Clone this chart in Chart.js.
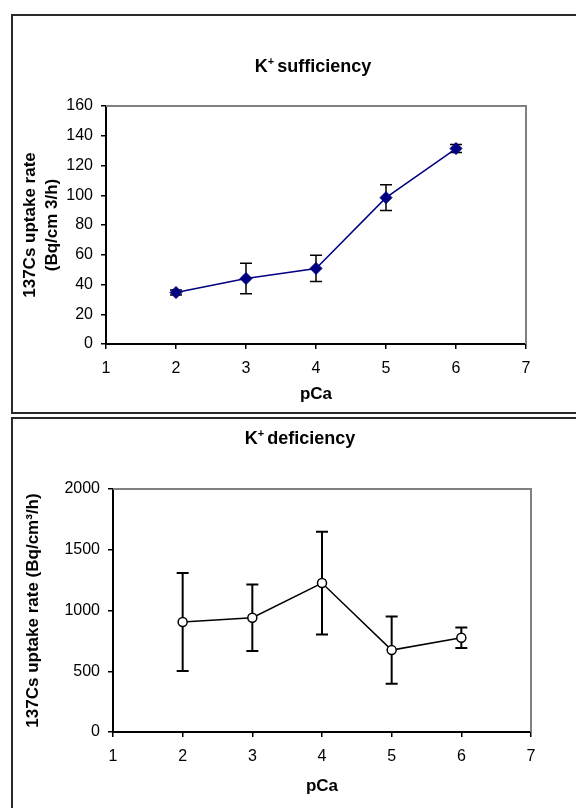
<!DOCTYPE html>
<html>
<head>
<meta charset="utf-8">
<script src="https://cdn.jsdelivr.net/npm/chart.js@4.4.1/dist/chart.umd.min.js"></script>
<style>
    html, body { margin: 0; padding: 0; background: #fff; overflow: hidden; }
    body { width: 576px; height: 808px; position: relative; font-family: 'Liberation Sans', Arial, sans-serif; }
    canvas { position: absolute; left: 0; }
    .box { position: absolute; left: 11px; width: 590px; border: 2px solid #2a2a2a; box-sizing: border-box; }
    .title { position: absolute; font-weight: bold; font-size: 18px; line-height: 18px; white-space: nowrap; transform: translateX(-50%); }
    .title sup { font-size: 11px; line-height: 0; vertical-align: 7px; margin-right: 3px; }
</style>
</head>
<body>
<canvas id="sufChart" width="576" height="412" style="top:0px;width:576px;height:412px"></canvas>
<canvas id="defChart" width="576" height="394" style="top:414px;width:576px;height:394px"></canvas>
<div class="box" style="top:14px;height:400px"></div>
<div class="box" style="top:417px;height:420px"></div>
<div class="title" style="left:313px;top:57px">K<sup>+</sup>sufficiency</div>
<div class="title" style="left:300px;top:429px">K<sup>+</sup>deficiency</div>

<script>
// Dados
const pCa = [2, 3, 4, 5, 6];
const xTicks = [1, 2, 3, 4, 5, 6, 7];

// K+ sufficiency
const sufMean = [34.6, 44, 50.8, 98.4, 131.4];
const sufErr = [1.7, 10.3, 8.8, 8.7, 2.7];
const sufYTicks = [0, 20, 40, 60, 80, 100, 120, 140, 160];

// K+ deficiency
const defMean = [905, 940, 1226, 674, 776];
const defErr = [403, 273, 423, 277, 85];
const defYTicks = [0, 500, 1000, 1500, 2000];

const FONT = "'Liberation Sans', Arial, sans-serif";

// Barras de erro desenhadas com as escalas do gráfico
function errorBars(means, errs, width) {
    return {
        id: 'errorBars',
        beforeDatasetsDraw(chart) {
            const ctx = chart.ctx;
            const xs = chart.scales.x;
            const ys = chart.scales.y;
            ctx.save();
            ctx.strokeStyle = '#000';
            ctx.lineWidth = width;
            pCa.forEach((p, i) => {
                const x = xs.getPixelForValue(p);
                const yTop = ys.getPixelForValue(means[i] + errs[i]);
                const yBot = ys.getPixelForValue(means[i] - errs[i]);
                ctx.beginPath();
                ctx.moveTo(x, yTop);
                ctx.lineTo(x, yBot);
                ctx.moveTo(x - 6, yTop);
                ctx.lineTo(x + 6, yTop);
                ctx.moveTo(x - 6, yBot);
                ctx.lineTo(x + 6, yBot);
                ctx.stroke();
            });
            ctx.restore();
        }
    };
}

// Borda cinza do plot area (topo e direita)
const plotFrame = {
    id: 'plotFrame',
    beforeDatasetsDraw(chart) {
        const {ctx, chartArea} = chart;
        ctx.save();
        ctx.strokeStyle = '#808080';
        ctx.lineWidth = 2;
        ctx.beginPath();
        ctx.moveTo(chartArea.left, chartArea.top);
        ctx.lineTo(chartArea.right, chartArea.top);
        ctx.lineTo(chartArea.right, chartArea.bottom);
        ctx.stroke();
        ctx.restore();
    }
};

function buildOptions(cfg) {
    return {
        responsive: false,
        animation: false,
        layout: {
            padding: { top: cfg.padTop, right: cfg.padRight, left: 0, bottom: 0 }
        },
        plugins: {
            legend: { display: false },
            tooltip: { enabled: false }
        },
        scales: {
            x: {
                type: 'linear',
                min: 1,
                max: 7,
                afterBuildTicks: scale => { scale.ticks = xTicks.map(v => ({ value: v })); },
                afterFit: scale => { scale.height = cfg.xHeight; },
                ticks: { color: '#000', padding: 10, font: { family: FONT, size: 16 }, callback: v => String(v) },
                grid: { drawOnChartArea: false, tickLength: 5, color: '#000', lineWidth: 1.5 },
                border: { color: '#000', width: 2 },
                title: {
                    display: true,
                    text: 'pCa',
                    color: '#000',
                    font: { family: FONT, size: 17, weight: 'bold' },
                    padding: { top: 0, bottom: cfg.xTitlePad }
                }
            },
            y: {
                min: 0,
                max: cfg.yMax,
                afterBuildTicks: scale => { scale.ticks = cfg.yTicks.map(v => ({ value: v })); },
                afterFit: scale => { scale.width = cfg.yWidth; },
                ticks: { color: '#000', padding: 8, font: { family: FONT, size: 16 }, callback: v => String(v) },
                grid: { drawOnChartArea: false, tickLength: 5, color: '#000', lineWidth: 1.5 },
                border: { color: '#000', width: 2 },
                title: {
                    display: true,
                    text: cfg.yTitle,
                    color: '#000',
                    font: { family: FONT, size: 17, weight: 'bold', lineHeight: 1.25 },
                    padding: { top: cfg.yTitlePad, bottom: 0 }
                }
            }
        }
    };
}

// Gráfico K+ sufficiency
new Chart(document.getElementById('sufChart').getContext('2d'), {
    type: 'line',
    data: {
        datasets: [{
            data: pCa.map((p, i) => ({ x: p, y: sufMean[i] })),
            borderColor: '#000080',
            borderWidth: 1.5,
            pointStyle: 'rectRot',
            pointRadius: 6,
            pointBackgroundColor: '#000080',
            pointBorderColor: '#000080',
            pointBorderWidth: 1
        }]
    },
    options: buildOptions({
        padTop: 106, padRight: 50, xHeight: 68, xTitlePad: 7,
        yWidth: 106, yMax: 160, yTicks: sufYTicks, yTitlePad: 20,
        yTitle: ['137Cs uptake rate', '(Bq/cm 3/h)']
    }),
    plugins: [plotFrame, errorBars(sufMean, sufErr, 1.5)]
});

// Gráfico K+ deficiency
new Chart(document.getElementById('defChart').getContext('2d'), {
    type: 'line',
    data: {
        datasets: [{
            data: pCa.map((p, i) => ({ x: p, y: defMean[i] })),
            borderColor: '#000',
            borderWidth: 1.5,
            pointStyle: 'circle',
            pointRadius: 4.5,
            pointBackgroundColor: '#fff',
            pointBorderColor: '#000',
            pointBorderWidth: 1.5
        }]
    },
    options: buildOptions({
        padTop: 75, padRight: 45, xHeight: 76, xTitlePad: 11,
        yWidth: 113, yMax: 2000, yTicks: defYTicks, yTitlePad: 23,
        yTitle: '137Cs uptake rate (Bq/cm³/h)'
    }),
    plugins: [plotFrame, errorBars(defMean, defErr, 2)]
});
</script>
</body>
</html>
